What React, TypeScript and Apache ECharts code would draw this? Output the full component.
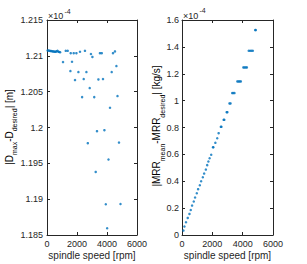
import React, { useEffect, useRef } from "react";
import * as echarts from "echarts";

// Left panel: |D_max - D_desired| (x1e-4 m) vs spindle speed [rpm]
const leftSpeed = [
  40, 100, 160, 220, 280, 340, 400, 460, 520, 580, 640, 700, 760, 820, 880,
  1067, 1250, 1380, 1560, 1580, 1667, 1780, 1867, 1960, 2093, 2200, 2340, 2447,
  2530, 2627, 2720, 2847, 2930, 3027, 3150, 3247, 3333, 3427, 3530, 3650, 3733,
  3827, 3920, 4010, 4100, 4200, 4313, 4400, 4530, 4627, 4700, 4800, 4900,
];
const leftDev = [
  1.21075, 1.21073, 1.21071, 1.21069, 1.21066, 1.21064, 1.21062, 1.2106, 1.21058, 1.21056, 1.21064, 1.2107, 1.21056, 1.21053, 1.2105,
  1.20913, 1.2107, 1.2107, 1.20787, 1.21037, 1.20917, 1.21037, 1.20662, 1.21037, 1.20773, 1.21057, 1.20424, 1.20676,
  1.2107, 1.20773, 1.19781, 1.2055, 1.21025, 1.20985, 1.20424, 1.1938, 1.19949, 1.20671, 1.21037, 1.21037, 1.20676,
  1.19963, 1.18929, 1.18594, 1.19553, 1.20275, 1.20773, 1.21037, 1.21062, 1.20857, 1.20438, 1.1979, 1.18933,
];

// Right panel: |MRR_mean - MRR_desired| (x1e-4 kg/s) vs spindle speed [rpm]
const rightSpeed = [
  93, 159, 265, 378, 491, 577, 664, 776, 863, 976, 1062, 1175, 1261, 1374, 1460, 1573, 1659, 1740, 1820, 1925,
  2040, 2070, 2200, 2323, 2416, 2560, 2600, 2745, 2790, 2945, 2990, 3130, 3200,
  3310, 3385, 3460, 3650, 3730, 3800, 3880, 4045, 4120, 4200, 4277,
  4400, 4490, 4580, 4670, 4825, 4865,
];
const rightDev = [
  0.033, 0.063, 0.095, 0.127, 0.157, 0.186, 0.219, 0.249, 0.279, 0.311, 0.341, 0.37, 0.4, 0.43, 0.457, 0.487, 0.52, 0.547, 0.571, 0.597,
  0.653, 0.653, 0.686, 0.72, 0.758, 0.805, 0.805, 0.857, 0.857, 0.914, 0.914, 0.979, 0.979,
  1.056, 1.056, 1.056, 1.143, 1.143, 1.143, 1.143, 1.247, 1.247, 1.247, 1.247,
  1.371, 1.371, 1.371, 1.371, 1.525, 1.525,
];

const leftYTicks = { min: 1.185, max: 1.215, interval: 0.005 };
const rightYTicks = { min: 0, max: 1.6, interval: 0.2 };
const xTicks = { min: 0, max: 6000, interval: 2000 };

const FONT = "'Liberation Sans', Arial, Helvetica, sans-serif";
const AX = "#262626";
const BLUE = "#0072BD";

export default function App() {
  const ref = useRef<HTMLDivElement>(null);
  useEffect(() => {
    document.body.style.margin = "0";
    const chart = echarts.init(ref.current!, null, { renderer: "svg" });
    const grids = [
      { left: 47, top: 20, width: 90, height: 215 },
      { left: 182, top: 20, width: 91, height: 215 },
    ];
    const axisLine = { show: true, onZero: false, lineStyle: { color: AX, width: 1 } };
    const tick = { show: true, inside: true, length: 3, lineStyle: { color: AX, width: 1 } };
    const labelStyle = {
      color: AX, fontSize: 9, fontFamily: FONT,
      formatter: (v: number) => String(Math.round(v * 100000) / 100000),
    };
    const xAxes: any[] = [];
    const yAxes: any[] = [];
    [0, 1].forEach((g) => {
      xAxes.push({
        type: "value", gridIndex: g, position: "bottom", ...xTicks,
        axisLine, axisTick: tick, splitLine: { show: false },
        axisLabel: { ...labelStyle, margin: 4 },
      });
      xAxes.push({
        type: "value", gridIndex: g, position: "top", ...xTicks,
        axisLine, axisTick: tick, splitLine: { show: false },
        axisLabel: { show: false },
      });
      const yt = g === 0 ? leftYTicks : rightYTicks;
      yAxes.push({
        type: "value", gridIndex: g, position: "left", ...yt,
        axisLine, axisTick: tick, splitLine: { show: false },
        axisLabel: { ...labelStyle, margin: g === 0 ? 4 : 3 },
      });
      yAxes.push({
        type: "value", gridIndex: g, position: "right", ...yt,
        axisLine, axisTick: tick, splitLine: { show: false },
        axisLabel: { show: false },
      });
    });
    const rich = {
      m: { fontSize: 10, fontFamily: FONT, color: AX, lineHeight: 18, verticalAlign: "middle" },
      s: { fontSize: 7, fontFamily: FONT, color: AX, verticalAlign: "bottom" },
    };
    const txt = (x: number, y: number, text: string, size: number, align = "left") => ({
      type: "text", x, y,
      style: { text, fontSize: size, fontFamily: FONT, fill: AX, align, verticalAlign: "middle" },
    });
    chart.setOption({
      animation: false,
      backgroundColor: "#ffffff",
      grid: grids.map((g) => ({ ...g, containLabel: false, outerBoundsMode: "none" })),
      xAxis: xAxes,
      yAxis: yAxes,
      series: [
        {
          type: "scatter", xAxisIndex: 0, yAxisIndex: 0, symbol: "circle", symbolSize: 2.5,
          itemStyle: { color: BLUE },
          data: leftSpeed.map((s, i) => [s, leftDev[i]]),
        },
        {
          type: "scatter", xAxisIndex: 2, yAxisIndex: 2, symbol: "circle", symbolSize: 2.5,
          itemStyle: { color: BLUE },
          data: rightSpeed.map((s, i) => [s, rightDev[i]]),
        },
      ],
      graphic: [
        txt(48, 16, "×10", 9),
        txt(64.5, 11, "-4", 7),
        txt(183, 15.5, "×10", 9),
        txt(199.5, 10.5, "-4", 7),
        txt(92, 255, "spindle speed [rpm]", 10, "center"),
        txt(227.5, 255, "spindle speed [rpm]", 10, "center"),
        {
          type: "text", x: 9, y: 127, rotation: Math.PI / 2,
          style: {
            text: "{m||D}{s|max}{m|-D}{s|desired}{m|| [m]}",
            rich, align: "center", verticalAlign: "middle",
          },
        },
        {
          type: "text", x: 156.5, y: 126, rotation: Math.PI / 2,
          style: {
            text: "{m||MRR}{s|mean}{m|-MRR}{s|desired}{m|| [kg/s]}",
            rich, align: "center", verticalAlign: "middle",
          },
        },
      ],
    });
    return () => chart.dispose();
  }, []);
  return <div ref={ref} style={{ width: 307, height: 264 }} />;
}
